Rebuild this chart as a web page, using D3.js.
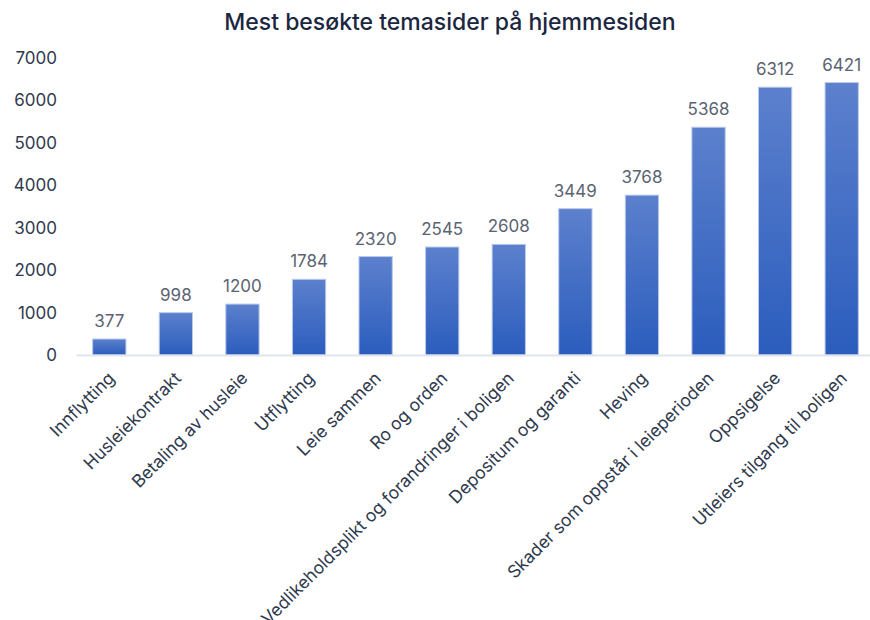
<!DOCTYPE html>
<html>
<head>
<meta charset="utf-8">
<script src="https://cdn.jsdelivr.net/npm/d3@7"></script>
<style>
	body { margin: 0; background: #fff; }
	svg { font-family: Inter, "Noto Sans", sans-serif; }
</style>
</head>
<body>
<svg width="870" height="620"></svg>
<script>
'use strict';

// Data
var categories = [
	'Innflytting', 'Husleiekontrakt', 'Betaling av husleie', 'Utflytting',
	'Leie sammen', 'Ro og orden', 'Vedlikeholdsplikt og forandringer i boligen',
	'Depositum og garanti', 'Heving', 'Skader som oppstår i leieperioden',
	'Oppsigelse', 'Utleiers tilgang til boligen'
];
var visits = [377, 998, 1200, 1784, 2320, 2545, 2608, 3449, 3768, 5368, 6312, 6421];
var yTicks = [0, 1000, 2000, 3000, 4000, 5000, 6000, 7000];

var svg = d3.select('svg');

// gradient for bars, lighter at top
var grad = svg.append('defs').append('linearGradient')
	.attr('id', 'barGrad')
	.attr('x1', 0).attr('y1', 0).attr('x2', 0).attr('y2', 1);
grad.append('stop').attr('offset', '0%').attr('stop-color', '#5c80cd');
grad.append('stop').attr('offset', '100%').attr('stop-color', '#2b5dbd');

var x = d3.scaleBand()
	.domain(categories)
	.range([76, 875])
	.paddingInner(0.5)
	.paddingOuter(0.25);

var y = d3.scaleLinear()
	.domain([0, 7000])
	.range([355, 58]);

// title
svg.append('text')
	.attr('x', 450)
	.attr('y', 30)
	.attr('text-anchor', 'middle')
	.attr('font-size', 23)
	.attr('font-weight', 500)
	.attr('fill', '#1b2641')
	.text('Mest besøkte temasider på hjemmesiden');

// y axis labels only
var yAxis = svg.append('g')
	.attr('transform', 'translate(57,0)')
	.call(d3.axisLeft(y).tickValues(yTicks).tickSize(0).tickPadding(0).tickFormat(d3.format('d')));
yAxis.select('.domain').remove();
yAxis.selectAll('text')
	.attr('font-size', 17)
	.attr('font-family', 'Inter, "Noto Sans", sans-serif')
	.attr('fill', '#2f3a4e');

// bars
svg.append('g').selectAll('rect')
	.data(visits)
	.enter()
		.append('rect')
		.attr('x', function (d, i) { return x(categories[i]); })
		.attr('y', function (d) { return y(d); })
		.attr('width', x.bandwidth())
		.attr('height', function (d) { return y(0) - y(d); })
		.attr('fill', 'url(#barGrad)')
		.attr('stroke', '#b9c9ec')
		.attr('stroke-width', 1);

// value labels
svg.append('g').selectAll('text')
	.data(visits)
	.enter()
		.append('text')
		.attr('x', function (d, i) { return x(categories[i]) + x.bandwidth() / 2; })
		.attr('y', function (d) { return y(d) - 12; })
		.attr('text-anchor', 'middle')
		.attr('font-size', 17)
		.attr('fill', '#5b6372')
		.text(function (d) { return d; });

// x axis: baseline plus rotated labels
var xAxis = svg.append('g')
	.attr('transform', 'translate(0,' + y(0) + ')')
	.call(d3.axisBottom(x).tickSize(0).tickPadding(0));
xAxis.select('.domain')
	.attr('stroke', '#e1e5ee')
	.attr('stroke-width', 2);
xAxis.selectAll('text')
	.attr('font-size', 17.5)
	.attr('font-family', 'Inter, "Noto Sans", sans-serif')
	.attr('fill', '#2f3a4e')
	.attr('text-anchor', 'end')
	.attr('dy', '0.35em')
	.attr('transform', 'translate(2,20) rotate(-45)');
</script>
</body>
</html>
